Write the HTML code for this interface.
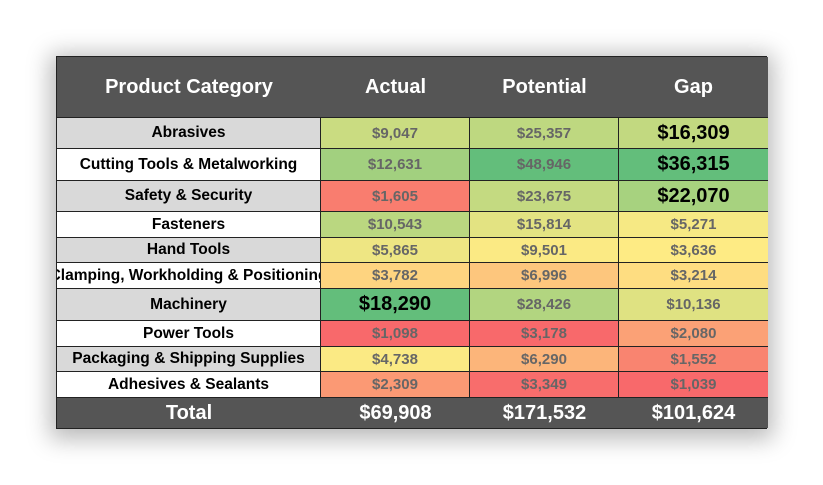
<!DOCTYPE html>
<html><head><meta charset="utf-8"><style>
body{margin:0;width:823px;height:485px;background:#fff;overflow:hidden;font-family:"Liberation Sans",sans-serif}
#wrap{position:absolute;left:56px;top:56px;width:711px;height:373px;box-shadow:0 4px 22px 6px rgba(0,0,0,0.28);background:#fff;border:1px solid #222;box-sizing:border-box}
.c{position:absolute;display:flex;align-items:center;justify-content:center;box-sizing:border-box;font-weight:bold;white-space:nowrap;overflow:hidden}
</style></head><body>
<div id="wrap"></div>
<script>
const categories=["Abrasives","Cutting Tools & Metalworking","Safety & Security","Fasteners","Hand Tools","Clamping, Workholding & Positioning","Machinery","Power Tools","Packaging & Shipping Supplies","Adhesives & Sealants"];
const actual=[9047,12631,1605,10543,5865,3782,18290,1098,4738,2309];
const potential=[25357,48946,23675,15814,9501,6996,28426,3178,6290,3349];
const gap=[16309,36315,22070,5271,3636,3214,10136,2080,1552,1039];
const headers=["Product Category","Actual","Potential","Gap"];
const totals=["Total","$69,908","$171,532","$101,624"];
const W=document.getElementById('wrap');
const colX=[0,264,413,562,711];
const rowH=[31,32,31,26,25,26,32,26,25,26];
function fmt(v){return '$'+v.toLocaleString('en-US');}
function lerp(a,b,t){t=Math.max(0,Math.min(1,t));return a.map((x,i)=>Math.round(x+(b[i]-x)*t));}
function color(v,arr){const s=[...arr].sort((a,b)=>a-b);const mn=s[0],mx=s[s.length-1];const md=s[3]+0.6*(s[4]-s[3]);
 const R=[248,105,107],Y=[255,235,132],G=[99,190,123];let c;
 if(v<=md)c=lerp(R,Y,(v-mn)/(md-mn));else c=lerp(Y,G,(v-md)/(mx-md));return 'rgb('+c.join(',')+')';}
function cell(x,y,w,h,txt,st,name){const d=document.createElement('div');d.className='c';
 
 
 d.style.left=x+'px';d.style.top=y+'px';d.style.width=w+'px';d.style.height=h+'px';d.textContent=txt;Object.assign(d.style,st);W.appendChild(d);return d;}
for(let i=0;i<4;i++)cell(colX[i],0,colX[i+1]-colX[i],61,headers[i],{background:'#555',color:'#fff',fontSize:'20px',borderBottom:'1px solid #222'},'header-'+headers[i].toLowerCase().replace(/ /g,'-'));
const cols=[actual,potential,gap];const bigCols=[true,false,true];
let y=61;
for(let r=0;r<categories.length;r++){const h=rowH[r];
 cell(0,y,264,h,categories[r],{background:r%2==0?'#d9d9d9':'#fff',color:'#000',fontSize:'15.5px',borderBottom:'1px solid #222',borderRight:'1px solid #222'},'category-label');
 for(let c=0;c<3;c++){const v=cols[c][r];const big=bigCols[c]&&v>15000;
  cell(colX[c+1],y,colX[c+2]-colX[c+1],h,fmt(v),{background:color(v,cols[c]),color:big?'#000':'#666',fontSize:big?'20px':'15px',borderBottom:'1px solid #222',borderRight:c<2?'1px solid #222':'none'},'value-cell');}
 y+=h;}
for(let i=0;i<4;i++)cell(colX[i],y,colX[i+1]-colX[i],373-2-y,totals[i],{background:'#555',color:'#fff',fontSize:'20px'},'total-'+i);
</script>
</body></html>
